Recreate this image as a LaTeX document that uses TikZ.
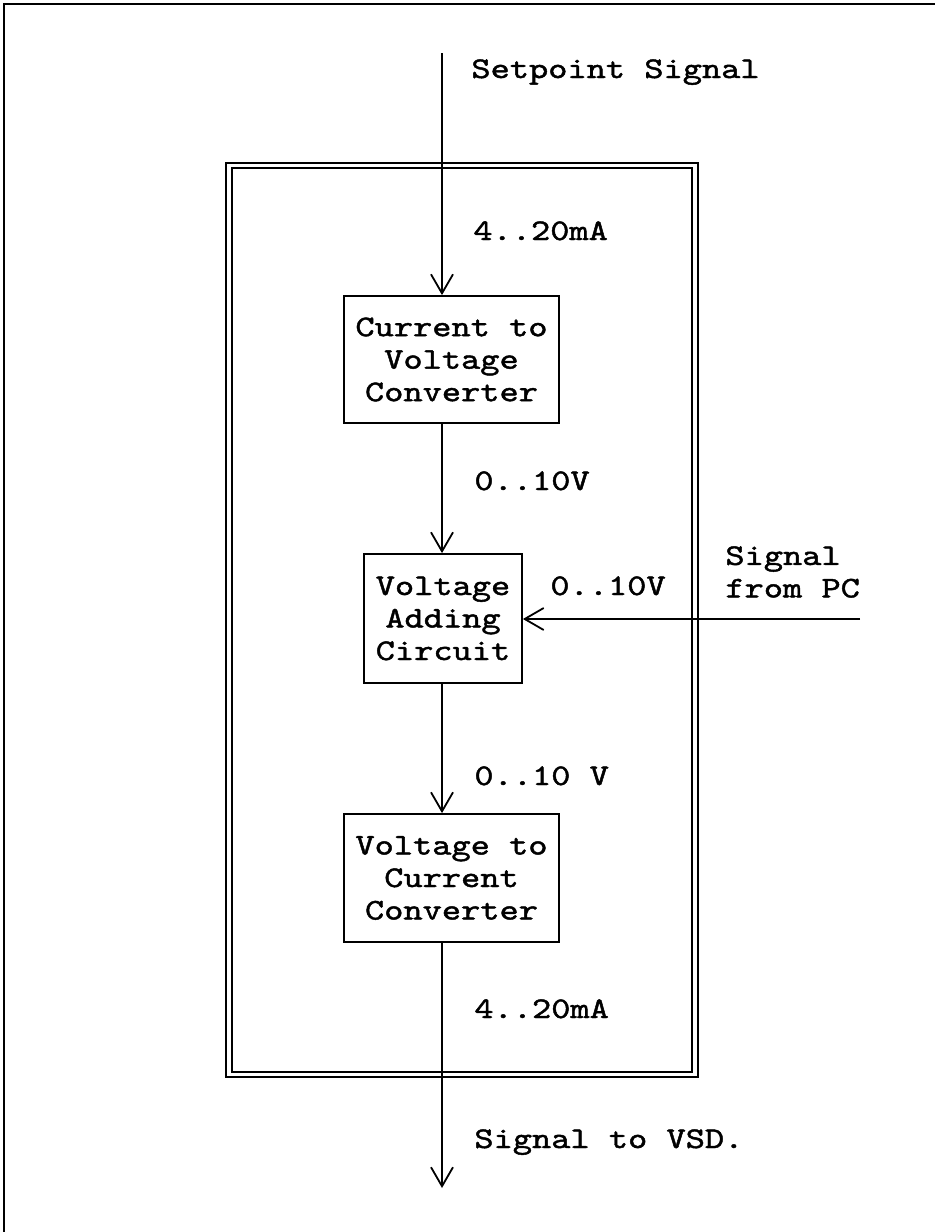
\documentclass[tikz,border=0pt]{standalone}
\usepackage{fontspec}
\newfontfamily\courfont[FakeStretch=1.22, FakeBold=1.5]{lmmono10-regular.otf}
\usetikzlibrary{arrows.meta, positioning}

\begin{document}
\begin{tikzpicture}[
    x=0.5pt, y=-0.5pt,
    every node/.style={font=\courfont\fontsize{15}{16.25}\selectfont},
    block/.style={draw, line width=0.9pt, align=center, inner sep=0pt, minimum width=107.5pt, minimum height=64pt},
    lbl/.style={anchor=base west, inner sep=0pt},
    sig/.style={line width=0.9pt, -{Straight Barb[length=9.5pt, width=11pt]}}
]
    \useasboundingbox (0,0) rectangle (935,1232);

    % page border and double frame
    \draw[line width=1.1pt] (935,4) -- (4,4) -- (4,1232);
    \draw[line width=0.9pt] (226,163) rectangle (698,1077);
    \draw[line width=0.9pt] (232,168) rectangle (692,1072);

    % blocks
    \node[block, minimum height=63.5pt] (cv) at (451.5,359.5) {Current to\\Voltage\\Converter};
    \node[block, minimum width=79pt, minimum height=64.5pt] (add) at (443,618.5) {Voltage\\Adding\\Circuit};
    \node[block] (vc) at (451.5,878) {Voltage to\\Current\\Converter};

    \coordinate (sp) at (442,53);
    \coordinate (vsd) at (442,1188);
    \coordinate (pc) at (860,619);

    % signal path
    \draw[sig] (sp) -- (sp |- cv.north);
    \draw[sig] (cv.south -| sp) -- (sp |- add.north);
    \draw[sig] (add.south -| sp) -- (sp |- vc.north);
    \draw[sig] (vc.south -| sp) -- (vsd);
    \draw[sig] (pc) -- (pc -| add.east);

    % labels
    \node[lbl] (lsp) at (471,78) {Setpoint Signal};
    \node[lbl] (lin) at (473,240) {4..20mA};
    \node[lbl] (lv1) at (474,490) {0..10V};
    \node[lbl] (lv2) at (550,595) {0..10V};
    \node[anchor=west, align=left, inner sep=0pt] (lpc) at (725,572) {Signal\\from PC};
    \node[lbl] (lv3) at (474,785) {0..10 V};
    \node[lbl] (lout) at (474,1018) {4..20mA};
    \node[lbl] (lvsd) at (474,1148) {Signal to VSD.};
\end{tikzpicture}
\end{document}
